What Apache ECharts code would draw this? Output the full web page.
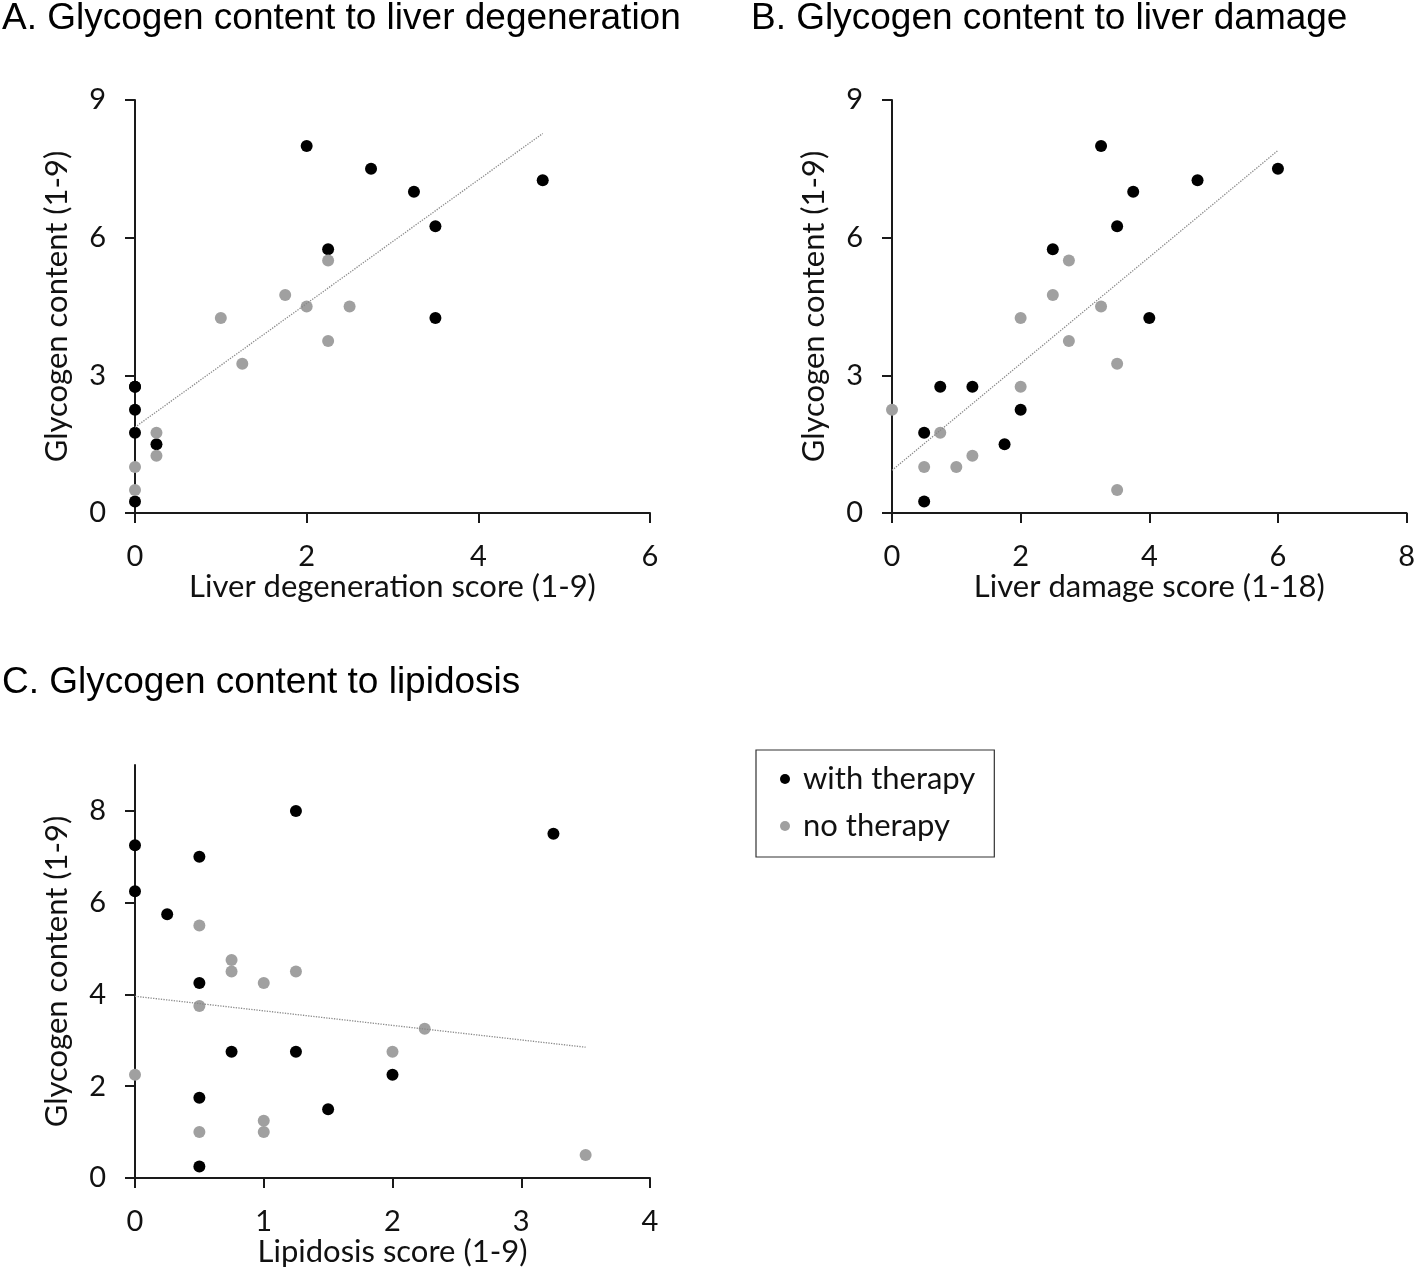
<!DOCTYPE html>
<html>
<head>
<meta charset="utf-8">
<script src="https://cdn.jsdelivr.net/npm/echarts@6/dist/echarts.min.js"></script>
<style>
html,body{margin:0;padding:0;background:#fff;}
#chart{width:1418px;height:1272px;}
</style>
</head>
<body>
<div id="chart"></div>
<script>
// Panel A: liver degeneration score (x) vs glycogen content (y)
const degenWith = [[2,8],[2.75,7.5],[3.25,7],[4.75,7.25],[3.5,6.25],[2.25,5.75],[3.5,4.25],[0,2.75],[0,2.75],[0,2.25],[0,1.75],[0.25,1.5],[0,0.25]];
const degenNo = [[2.25,5.5],[1.75,4.75],[2,4.5],[2.5,4.5],[1,4.25],[2.25,3.75],[1.25,3.25],[0.25,1.75],[0.25,1.25],[0,1],[0,0.5]];
const degenTrend = [[0,1.87],[4.75,8.27]];

// Panel B: liver damage score (x) vs glycogen content (y)
const damageWith = [[3.25,8],[6,7.5],[4.75,7.25],[3.75,7],[3.5,6.25],[2.5,5.75],[4,4.25],[0.75,2.75],[1.25,2.75],[2,2.25],[0.5,1.75],[1.75,1.5],[0.5,0.25]];
const damageNo = [[2.75,5.5],[2.5,4.75],[3.25,4.5],[2,4.25],[2.75,3.75],[3.5,3.25],[2,2.75],[0,2.25],[0.75,1.75],[1.25,1.25],[0.5,1],[1,1],[3.5,0.5]];
const damageTrend = [[0,0.93],[6,7.9]];

// Panel C: lipidosis score (x) vs glycogen content (y)
const lipidWith = [[0,7.25],[0,6.25],[0.25,5.75],[0.5,7],[1.25,8],[3.25,7.5],[0.5,4.25],[0.75,2.75],[1.25,2.75],[2,2.25],[0.5,1.75],[1.5,1.5],[0.5,0.25]];
const lipidNo = [[0.5,5.5],[0.75,4.75],[0.75,4.5],[1.25,4.5],[1,4.25],[0.5,3.75],[2.25,3.25],[2,2.75],[0,2.25],[1,1.25],[0.5,1],[1,1],[3.5,0.5]];
const lipidTrend = [[0,3.96],[3.5,2.85]];

const titles = ['A. Glycogen content to liver degeneration','B. Glycogen content to liver damage','C. Glycogen content to lipidosis'];
const xNames = ['Liver degeneration score (1-9)','Liver damage score (1-18)','Lipidosis score (1-9)'];
const yName = 'Glycogen content (1-9)';
const seriesNames = ['with therapy','no therapy'];
const cTicks = [0,2,4,6,8];

const BLACK = '#000000', GRAY = '#a0a0a0', AXIS = '#1a1a1a';
const labelFont = 'Lato, "Open Sans", sans-serif';
const FS = 31;

function xAxis(idx, max, interval){
  return {
    gridIndex: idx, type:'value', min:0, max:max, interval:interval,
    name: xNames[idx], nameLocation:'middle', nameGap:57,
    nameTextStyle:{fontFamily:labelFont,fontSize:FS,color:'#111',lineHeight:30},
    axisLine:{show:true,onZero:false,lineStyle:{color:AXIS,width:2}},
    axisTick:{show:true,length:10,lineStyle:{color:AXIS,width:2}},
    axisLabel:{fontFamily:labelFont,fontSize:29,color:'#111',margin:29},
    splitLine:{show:false}
  };
}
function yAxis(idx, interval, custom){
  const a = {
    gridIndex: idx, type:'value', min:0, max:9, interval:interval,
    name: yName, nameLocation:'middle', nameGap:63, nameRotate:90,
    nameTextStyle:{fontFamily:labelFont,fontSize:FS,color:'#111',lineHeight:30},
    axisLine:{show:true,onZero:false,lineStyle:{color:AXIS,width:2}},
    axisTick:{show:true,length:10,lineStyle:{color:AXIS,width:2}},
    axisLabel:{fontFamily:labelFont,fontSize:29,color:'#111',margin:29},
    splitLine:{show:false}
  };
  if(custom){ a.axisTick.customValues = custom; a.axisLabel.customValues = custom; }
  return a;
}
function scat(name, data, idx, color){
  return {name:name,type:'scatter',xAxisIndex:idx,yAxisIndex:idx,data:data,symbol:'circle',symbolSize:12,
    itemStyle:{color:color,opacity:1},silent:true,z:2};
}
function trend(data, idx){
  return {name:'trend',type:'line',xAxisIndex:idx,yAxisIndex:idx,data:data,symbol:'none',silent:true,z:3,
    lineStyle:{type:'dotted',color:'#8a8a8a',width:1.3}};
}

const titleStyle = {fontFamily:'"Liberation Sans", Arial, sans-serif',fontSize:37,fontWeight:'normal',color:'#000',lineHeight:38};
const chart = echarts.init(document.getElementById('chart'),null,{renderer:'canvas'});
chart.setOption({
  backgroundColor:'#fff',
  animation:false,
  title:[
    {text:titles[0],left:2,top:0,padding:0,textStyle:titleStyle},
    {text:titles[1],left:751,top:0,padding:0,textStyle:titleStyle},
    {text:titles[2],left:2,top:664,padding:0,textStyle:titleStyle}
  ],
  legend:{
    data:seriesNames, orient:'vertical', left:756, top:750,
    icon:'circle', itemWidth:26, itemHeight:10, itemGap:13,
    padding:[12,19,14,24],
    borderColor:'#333', borderWidth:1.2,
    itemStyle:{opacity:1},
    textStyle:{fontFamily:labelFont,fontSize:FS,color:'#111',lineHeight:34},
    selectedMode:false
  },
  grid:[
    {left:135,top:100,width:515,height:413},
    {left:892,top:100,width:516,height:413},
    {left:135,top:765,width:515,height:413}
  ],
  xAxis:[xAxis(0,6,2),xAxis(1,8,2),xAxis(2,4,1)],
  yAxis:[yAxis(0,3),yAxis(1,3),yAxis(2,1,cTicks)],
  series:[
    scat(seriesNames[0],degenWith,0,BLACK), scat(seriesNames[1],degenNo,0,GRAY), trend(degenTrend,0),
    scat(seriesNames[0],damageWith,1,BLACK), scat(seriesNames[1],damageNo,1,GRAY), trend(damageTrend,1),
    scat(seriesNames[0],lipidWith,2,BLACK), scat(seriesNames[1],lipidNo,2,GRAY), trend(lipidTrend,2)
  ]
});
</script>
</body>
</html>
